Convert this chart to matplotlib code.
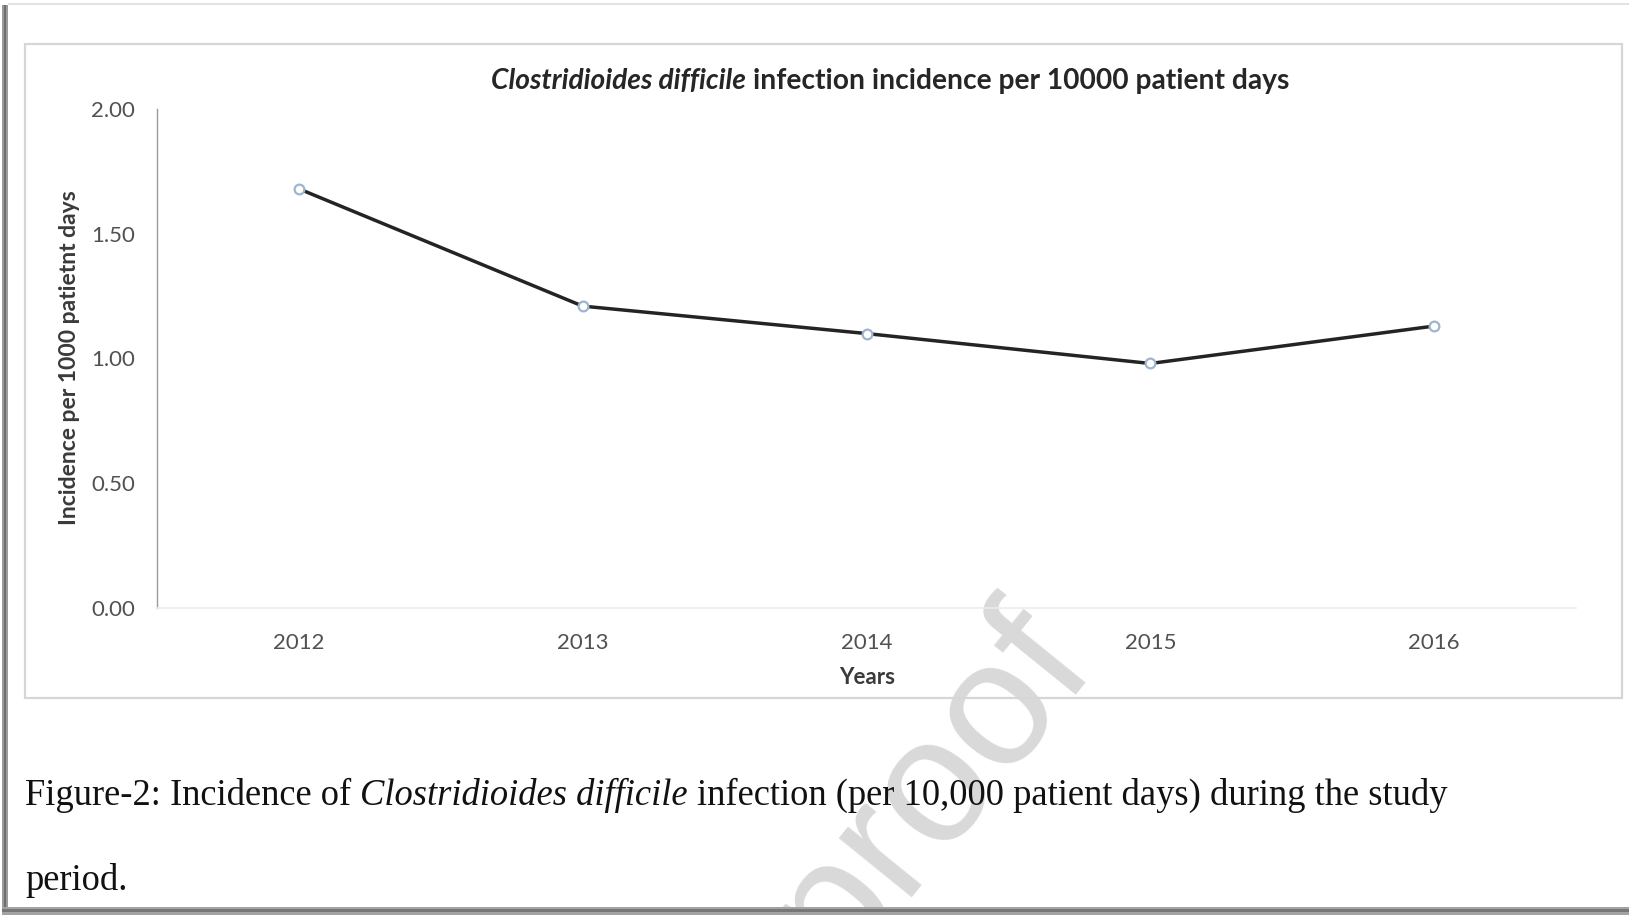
import matplotlib
matplotlib.use("Agg")
import matplotlib.pyplot as plt
from matplotlib.patches import Rectangle

# ---- data ----
years = ["2012", "2013", "2014", "2015", "2016"]
incidence = [1.68, 1.21, 1.10, 0.98, 1.13]
y_ticks = [0.00, 0.50, 1.00, 1.50, 2.00]

title_parts = [("Clostridioides difficile", "italic"),
               ("infection incidence per 10000 patient days", "normal")]
caption_parts = [("Figure-2: Incidence of", "normal"),
                 ("Clostridioides difficile", "italic"),
                 ("infection (per 10,000 patient days) during the study", "normal")]
caption_line2 = "period."
x_label = "Years"
y_label = "Incidence per 1000 patietnt days"
watermark = "Journal Pre-proof"

# ---- canvas in pixel units ----
W, H = 1629, 915
fig = plt.figure(figsize=(W / 100, H / 100), dpi=100)
fig.patch.set_facecolor("white")
renderer = fig.canvas.get_renderer()


def fx(x):
    return x / W


def fy(y):
    return 1 - y / H


SANS = "Lato"
SERIF = "Liberation Serif"


def measure(s, size, family, style="normal", weight="normal"):
    t = fig.text(0, 0, s, fontsize=size, family=family, style=style, weight=weight)
    w = t.get_window_extent(renderer).width
    t.remove()
    return w


def run_width(parts, size, family, weight):
    gap = measure("x x", size, family, weight=weight) - measure("xx", size, family, weight=weight)
    total = sum(measure(s, size, family, st, weight) for s, st in parts)
    return total + gap * (len(parts) - 1), gap


def fit_size(parts, target, family, weight):
    w, _ = run_width(parts, 10, family, weight)
    return 10 * target / w


def draw_run(parts, x0, baseline, size, family, weight, color, align="left"):
    total, gap = run_width(parts, size, family, weight)
    x = x0 - total / 2 if align == "center" else x0
    for s, st in parts:
        fig.text(fx(x), fy(baseline), s, fontsize=size, family=family, style=st,
                 weight=weight, color=color, ha="left", va="baseline", zorder=5)
        x += measure(s, size, family, st, weight) + gap


# ---- watermark (behind everything) ----
fig.text(fx(1098), fy(668), watermark, fontsize=128, family="Liberation Sans",
         color="#d9d9d9", rotation=51, rotation_mode="anchor",
         ha="right", va="baseline", zorder=0)

# ---- outer page frame ----
fig.add_artist(Rectangle((fx(2), fy(912)), 6 / W, (912 - 5) / H, transform=fig.transFigure,
                         facecolor="#9a9a9a", edgecolor="none", zorder=1))
fig.add_artist(Rectangle((fx(4), fy(912)), 2 / W, (912 - 5) / H, transform=fig.transFigure,
                         facecolor="#6e6e6e", edgecolor="none", zorder=1))
fig.add_artist(Rectangle((fx(2), fy(915)), (W - 2) / W, 8 / H, transform=fig.transFigure,
                         facecolor="#a3a3a3", edgecolor="none", zorder=1))
fig.add_artist(Rectangle((fx(2), fy(912)), (W - 2) / W, 3 / H, transform=fig.transFigure,
                         facecolor="#777777", edgecolor="none", zorder=1))
fig.add_artist(Rectangle((fx(8), fy(5)), (W - 8) / W, 2 / H, transform=fig.transFigure,
                         facecolor="#e2e2e2", edgecolor="none", zorder=1))

# ---- chart frame ----
fig.add_artist(Rectangle((fx(25), fy(698)), (1622 - 25) / W, (698 - 44) / H,
                         transform=fig.transFigure, facecolor="none",
                         edgecolor="#d6d6d6", linewidth=1.6, zorder=1))

# ---- plot area ----
ax = fig.add_axes([fx(157), fy(608), (1576 - 157) / W, (608 - 109) / H])
ax.set_facecolor("none")
ax.set_zorder(2)
xs = list(range(len(years)))
ax.plot(xs, incidence, color="#242424", linewidth=2.5, marker="o", markersize=7,
        markerfacecolor="white", markeredgecolor="#9fb5cf", markeredgewidth=1.6,
        zorder=3, clip_on=False)
ax.set_xlim(-0.5, len(years) - 0.5)
ax.set_ylim(0, 2)
ax.set_xticks(xs)
ax.set_xticklabels(years)
ax.set_yticks(y_ticks)
ax.set_yticklabels([f"{v:.2f}" for v in y_ticks])
for lab in ax.get_xticklabels() + ax.get_yticklabels():
    lab.set_family(SANS)
ax.tick_params(axis="both", length=0, labelsize=16, labelcolor="#515151")
ax.tick_params(axis="x", pad=18)
ax.tick_params(axis="y", pad=16)
for side in ("top", "right"):
    ax.spines[side].set_visible(False)
ax.spines["left"].set_color("#9c9c9c")
ax.spines["left"].set_linewidth(1.0)
ax.spines["bottom"].set_color("#ececec")
ax.spines["bottom"].set_linewidth(1.2)

# ---- axis titles ----
fig.text(fx(867), fy(677), x_label, fontsize=16, family=SANS, weight="bold",
         color="#3a3a3a", ha="center", va="center", zorder=5)
fig.text(fx(70), fy(358), y_label, fontsize=16.5, family=SANS, weight="bold",
         color="#3a3a3a", ha="center", va="center", rotation=90, zorder=5)

# ---- chart title ----
tsize = fit_size(title_parts, 797, SANS, "bold")
draw_run(title_parts, 890, 89, tsize, SANS, "bold", "#262626", align="center")

# ---- caption ----
csize = fit_size(caption_parts, 1424, SERIF, "normal")
draw_run(caption_parts, 25, 805, csize, SERIF, "normal", "#111111")
fig.text(fx(25), fy(890), caption_line2, fontsize=csize, family=SERIF,
         color="#111111", ha="left", va="baseline", zorder=5)

fig.savefig("out.png", dpi=100, facecolor="white")
